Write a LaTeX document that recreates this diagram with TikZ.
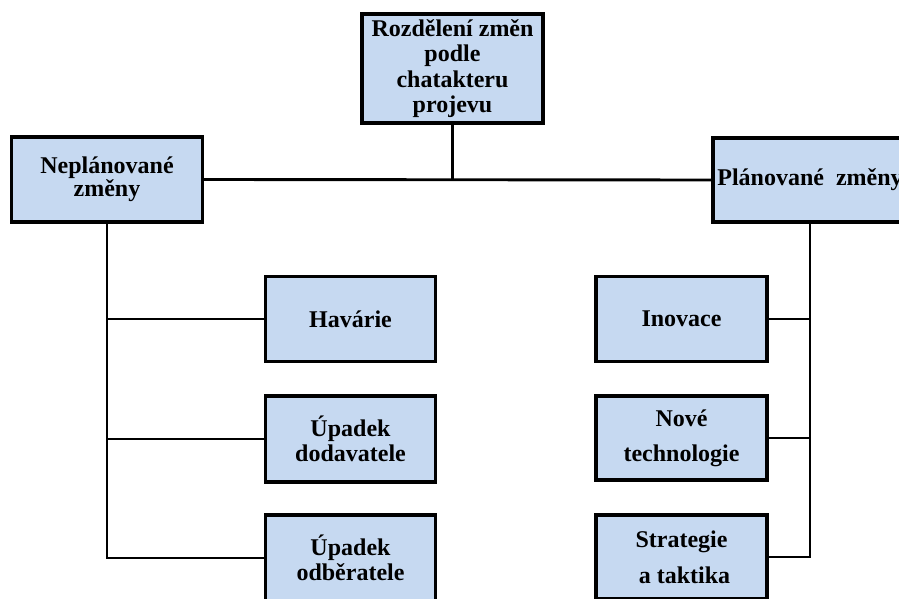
\documentclass[tikz,border=0pt]{standalone}
\usepackage{fontspec}
\setmainfont{Liberation Serif}
\usepackage{xcolor}
\usepackage{tikz}
\definecolor{B0}{HTML}{C6D9F1}

\begin{document}
\begin{tikzpicture}[x=1pt,y=-1pt]
\tikzstyle{box}=[draw,shape=rectangle,line width=3.2pt,fill=B0,inner sep=0pt,align=center,font=\fontsize{24}{25.5}\selectfont\bfseries]
\tikzstyle{lnk}=[line width=2.9pt]

\useasboundingbox (0,0) rectangle (899,599);
\clip (0,0) rectangle (899,599);
%
\node[box,minimum width=181,minimum height=109](top) at (452.5,68.5){Rozdělení změn\\podle\\chatakteru\\projevu};
\node[box,minimum width=191,minimum height=85,font=\fontsize{24}{22}\selectfont\bfseries](nep) at (107,179.5){Neplánované\\změny};
\node[box,minimum width=194,minimum height=84](plan) at (810,180){Plánované\ \ změny};
%
\node[box,minimum width=170,minimum height=85](hav) at (350.5,319){Havárie};
\node[box,minimum width=170,minimum height=86](dod) at (350.5,439){Úpadek\\dodavatele};
\node[box,minimum width=170,minimum height=86](odb) at (350.5,558){Úpadek\\odběratele};
%
\node[box,minimum width=171,minimum height=85](ino) at (681.5,319){Inovace};
\node[box,minimum width=171,minimum height=84,font=\fontsize{24}{35}\selectfont\bfseries](tech) at (681.5,438){Nové\\technologie};
\node[box,minimum width=171,minimum height=84,font=\fontsize{24}{36}\selectfont\bfseries](strat) at (681.5,557){Strategie\\\ a taktika};
%
\draw[lnk] (nep.east) -- (plan.west);
\draw[lnk] (top.south) -- (top.south |- nep.east);
%
\draw[lnk] (nep.south) |- (odb.west);
\draw[lnk] (hav.west) -- (hav.west -| nep.south);
\draw[lnk] (dod.west) -- (dod.west -| nep.south);
%
\draw[lnk] (plan.south) |- (strat.east);
\draw[lnk] (ino.east) -- (ino.east -| plan.south);
\draw[lnk] (tech.east) -- (tech.east -| plan.south);
\end{tikzpicture}
\end{document}
